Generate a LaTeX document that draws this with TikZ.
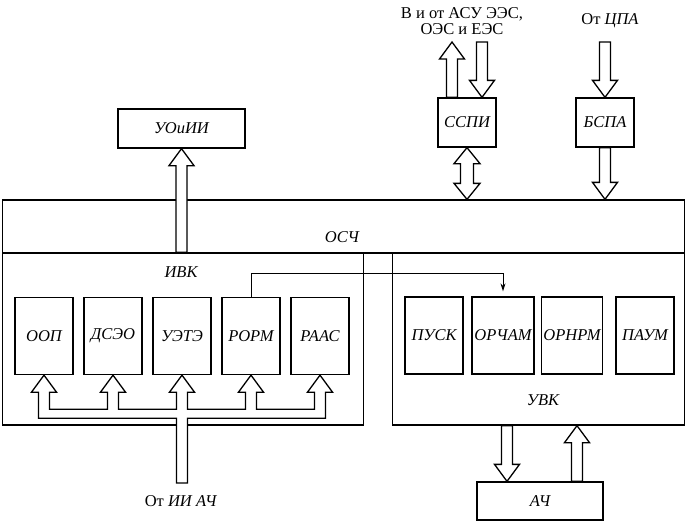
\documentclass[tikz,border=0pt]{standalone}
\usepackage{fontspec}
\setmainfont{Liberation Serif}
\usetikzlibrary{calc, arrows.meta}
\tikzstyle{frame} = [rectangle, draw=black, inner sep=0pt]
\tikzstyle{block} = [rectangle, minimum width=58pt, minimum height=77pt, inner sep=1pt, text centered, draw=black, font=\itshape]
\tikzstyle{unit} = [rectangle, minimum height=49pt, inner sep=2pt, text centered, draw=black, font=\itshape]
\tikzstyle{caption} = [font=\itshape]
\tikzstyle{hollow} = [draw=black, fill=white, line join=miter]
\tikzstyle{arrow} = [-{Stealth[length=8pt,width=5pt]}]

% hollow block arrows: #1 gives the base level, #2 the tip
\newcommand{\blkup}[2]{\draw[hollow] let \p1=(#1), \p2=(#2) in
    (\x2-5.5pt,\y1) -- (\x2-5.5pt,\y2-17pt) -- (\x2-12.5pt,\y2-17pt) -- (\x2,\y2)
    -- (\x2+12.5pt,\y2-17pt) -- (\x2+5.5pt,\y2-17pt) -- (\x2+5.5pt,\y1) -- cycle;}
\newcommand{\blkdown}[2]{\draw[hollow] let \p1=(#1), \p2=(#2) in
    (\x2-5.5pt,\y1) -- (\x2-5.5pt,\y2+17pt) -- (\x2-12.5pt,\y2+17pt) -- (\x2,\y2)
    -- (\x2+12.5pt,\y2+17pt) -- (\x2+5.5pt,\y2+17pt) -- (\x2+5.5pt,\y1) -- cycle;}
\newcommand{\blkboth}[2]{\draw[hollow] let \p1=(#1), \p2=(#2) in
    (\x1,\y1) -- (\x1+13pt,\y1-16pt) -- (\x1+6.5pt,\y1-16pt) -- (\x1+6.5pt,\y2+16pt)
    -- (\x1+13pt,\y2+16pt) -- (\x1,\y2) -- (\x1-13pt,\y2+16pt) -- (\x1-6.5pt,\y2+16pt)
    -- (\x1-6.5pt,\y1-16pt) -- (\x1-13pt,\y1-16pt) -- cycle;}

\begin{document}
\fontsize{16.5pt}{15.5pt}\selectfont
\begin{tikzpicture}[x=1pt, y=-1pt, line width=1.3pt, node distance=69pt]
    \useasboundingbox (0,0) rectangle (686,523);

    \node (osc) [frame, minimum width=682pt, minimum height=53pt] at (343.5,226.5) {};
    \node (osc_label) [caption] at (342,237) {ОСЧ};
    \node (ivk) [frame, minimum width=361pt, minimum height=172pt] at (183,339) {};
    \node (ivk_label) [caption] at (181,272) {ИВК};
    \node (uvk) [frame, minimum width=292pt, minimum height=172pt] at (538.5,339) {};
    \node (uvk_label) [caption] at (543,400) {УВК};

    \node (oop) [block] at (44,336) {ООП};
    \node (dseo) [block, right of=oop] {ДСЭО};
    \node (uete) [block, right of=dseo] {УЭТЭ};
    \node (rorm) [block, right of=uete] {РОРМ};
    \node (raas) [block, right of=rorm] {РААС};

    \node (pusk) [block] at (434,335.5) {ПУСК};
    \node (orcham) [block, right of=pusk, minimum width=62pt] {ОРЧАМ};
    \node (ornrm) [block, right of=orcham, minimum width=61pt] {ОРНРМ};
    \node (paum) [block, right of=ornrm, xshift=4pt] {ПАУМ};

    \node (uoii) [unit, minimum width=127pt, minimum height=39pt] at (181.5,128.5) {УОиИИ};
    \node (sspi) [unit, minimum width=58pt] at (467,122.5) {ССПИ};
    \node (bspa) [unit, minimum width=58pt] at (605,122.5) {БСПА};
    \node (ach) [unit, minimum width=126pt, minimum height=38pt] at (540,501) {АЧ};

    \node (asu_label) [align=center] at (462,21) {В и от АСУ ЭЭС,\\ОЭС и ЕЭС};
    \node (cpa_label) at (610,21) {От \textit{ЦПА}};
    \node (iiach_label) at (181,501) {От \textit{ИИ АЧ}};

    \coordinate (asu_out) at (452,42);
    \coordinate (asu_in) at (482,42);
    \coordinate (cpa_in) at (606,42);
    \coordinate (iiach_in) at (182,483);
    \coordinate (ach_in) at ($(ach.north)+(-33,0)$);
    \coordinate (ach_out) at ($(ach.north)+(37,0)$);

    \draw [arrow, line width=1pt, shorten >=5pt] (rorm.north) -- ++(0,-23) -| (orcham.north);

    \blkup{ivk.north}{uoii.south}
    \blkup{sspi.north}{asu_out}
    \blkdown{asu_in}{sspi.north -| asu_in}
    \blkboth{sspi.south}{sspi.south |- osc.north}
    \blkdown{cpa_in}{bspa.north}
    \blkdown{bspa.south}{bspa.south |- osc.north}
    \blkdown{uvk.south}{ach_in}
    \blkup{ach.north}{uvk.south -| ach_out}

    \draw [hollow] let \p1=(oop.south), \p2=(dseo.south), \p3=(uete.south),
        \p4=(rorm.south), \p5=(raas.south), \p6=(iiach_in) in
        (\x3-5.5pt,\y6) -- (\x3-5.5pt,\y1-43pt) -- (\x1-5.5pt,\y1-43pt)
        -- (\x1-5.5pt,\y1-17pt) -- (\x1-12.5pt,\y1-17pt) -- (\x1,\y1) -- (\x1+12.5pt,\y1-17pt) -- (\x1+5.5pt,\y1-17pt)
        -- (\x1+5.5pt,\y1-34pt) -- (\x2-5.5pt,\y1-34pt)
        -- (\x2-5.5pt,\y1-17pt) -- (\x2-12.5pt,\y1-17pt) -- (\x2,\y1) -- (\x2+12.5pt,\y1-17pt) -- (\x2+5.5pt,\y1-17pt)
        -- (\x2+5.5pt,\y1-34pt) -- (\x3-5.5pt,\y1-34pt)
        -- (\x3-5.5pt,\y1-17pt) -- (\x3-12.5pt,\y1-17pt) -- (\x3,\y1) -- (\x3+12.5pt,\y1-17pt) -- (\x3+5.5pt,\y1-17pt)
        -- (\x3+5.5pt,\y1-34pt) -- (\x4-5.5pt,\y1-34pt)
        -- (\x4-5.5pt,\y1-17pt) -- (\x4-12.5pt,\y1-17pt) -- (\x4,\y1) -- (\x4+12.5pt,\y1-17pt) -- (\x4+5.5pt,\y1-17pt)
        -- (\x4+5.5pt,\y1-34pt) -- (\x5-5.5pt,\y1-34pt)
        -- (\x5-5.5pt,\y1-17pt) -- (\x5-12.5pt,\y1-17pt) -- (\x5,\y1) -- (\x5+12.5pt,\y1-17pt) -- (\x5+5.5pt,\y1-17pt)
        -- (\x5+5.5pt,\y1-43pt) -- (\x3+5.5pt,\y1-43pt) -- (\x3+5.5pt,\y6) -- cycle;

\end{tikzpicture}
\end{document}
